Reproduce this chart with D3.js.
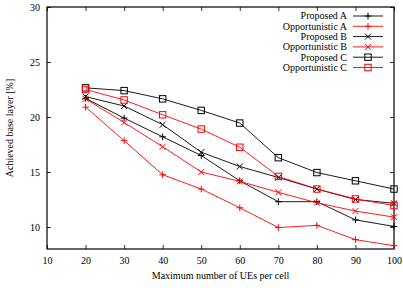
<!DOCTYPE html>
<html><head><meta charset="utf-8">
<script src="https://cdn.jsdelivr.net/npm/d3@7"></script>
<style>body{margin:0;background:#fff}svg{display:block}text{font-family:"Liberation Serif","Times New Roman",serif;font-size:10px;fill:#000}</style>
</head><body><svg id="c" width="403" height="288"></svg>
<script>
const xValues = [20,30,40,50,60,70,80,90,100];
const proposedA = [21.7,19.9,18.2,16.5,14.2,12.3,12.3,10.65,10.05];
const opportunisticA = [20.9,17.85,14.75,13.45,11.75,9.95,10.15,8.85,8.3];
const proposedB = [21.85,21.0,19.3,16.8,15.5,14.5,13.45,12.5,12.15];
const opportunisticB = [21.65,19.5,17.3,15.0,14.15,13.15,12.2,11.45,10.9];
const proposedC = [22.65,22.4,21.65,20.6,19.45,16.3,14.95,14.2,13.45];
const opportunisticC = [22.5,21.55,20.2,18.9,17.25,14.6,13.45,12.55,11.95];
const seriesNames = ["Proposed A","Opportunistic A","Proposed B","Opportunistic B","Proposed C","Opportunistic C"];
const seriesColors = ["#000","#f00","#000","#f00","#000","#f00"];
const seriesMarkers = ["plus","plus","cross","cross","square","square"];
const xTicks = [10,20,30,40,50,60,70,80,90,100];
const yTicks = [10,15,20,25,30];
const xLabel = "Maximum number of UEs per cell";
const yLabel = "Achieved base layer [%]";

const allValues = [proposedA,opportunisticA,proposedB,opportunisticB,proposedC,opportunisticC];
const svg = d3.select("#c");
const L=47,R=394,T=7,B=249;
const x = d3.scaleLinear().domain([10,100]).range([L,R]);
const y = d3.scaleLinear().domain([8,30]).range([B,T]);

// axes with inner ticks
const tl=4;
const gB = svg.append("g").attr("transform",`translate(0,${B})`).call(d3.axisBottom(x).tickValues(xTicks).tickSize(-tl).tickPadding(8));
const gT = svg.append("g").attr("transform",`translate(0,${T})`).call(d3.axisTop(x).tickValues(xTicks).tickSize(-tl).tickFormat(""));
const gL = svg.append("g").attr("transform",`translate(${L},0)`).call(d3.axisLeft(y).tickValues(yTicks).tickSize(-tl).tickPadding(7));
const gR = svg.append("g").attr("transform",`translate(${R},0)`).call(d3.axisRight(y).tickValues(yTicks).tickSize(-tl).tickFormat(""));
[gB,gT,gL,gR].forEach(g=>{g.select(".domain").remove();g.selectAll("line").attr("stroke","#000").attr("stroke-width",0.8);g.selectAll("text").attr("font-family",null).attr("font-size",null).attr("fill","#000");});
gB.selectAll("text").attr("dy","0.71em").attr("y",8);
svg.append("rect").attr("x",L).attr("y",T).attr("width",R-L).attr("height",B-T).attr("fill","none").attr("stroke","#000").attr("stroke-width",1.2);

svg.append("text").attr("x",(L+R)/2).attr("y",279).attr("text-anchor","middle").text(xLabel);
svg.append("text").attr("transform",`translate(13,${(T+B)/2}) rotate(-90)`).attr("text-anchor","middle").text(yLabel);

function marker(g,type,cx,cy,color){
  const s=3.3;
  if(type==="plus"){
    g.append("path").attr("d",`M${cx-s},${cy}H${cx+s}M${cx},${cy-s}V${cy+s}`).attr("stroke",color).attr("stroke-width",1).attr("fill","none");
  } else if(type==="cross"){
    const c=3;
    g.append("path").attr("d",`M${cx-c},${cy-c}L${cx+c},${cy+c}M${cx-c},${cy+c}L${cx+c},${cy-c}`).attr("stroke",color).attr("stroke-width",1).attr("fill","none");
  } else {
    const q=3.2;
    g.append("rect").attr("x",cx-q).attr("y",cy-q).attr("width",2*q).attr("height",2*q).attr("stroke",color).attr("stroke-width",1).attr("fill","none");
  }
}
const line = d3.line().x((d,i)=>x(xValues[i])).y(d=>y(d));
allValues.forEach((vals,k)=>{
  const g=svg.append("g");
  g.append("path").datum(vals).attr("d",line).attr("fill","none").attr("stroke",seriesColors[k]).attr("stroke-width",0.9);
  vals.forEach((v,i)=>marker(g,seriesMarkers[k],x(xValues[i]),y(v),seriesColors[k]));
});

// legend
const lg=svg.append("g");
seriesNames.forEach((n,k)=>{
  const ly=16+k*10.3;
  lg.append("text").attr("x",347).attr("y",ly).attr("dy","0.33em").attr("text-anchor","end").text(n);
  lg.append("line").attr("x1",353).attr("x2",383).attr("y1",ly).attr("y2",ly).attr("stroke",seriesColors[k]).attr("stroke-width",0.9);
  marker(lg,seriesMarkers[k],368,ly,seriesColors[k]);
});
</script></body></html>
